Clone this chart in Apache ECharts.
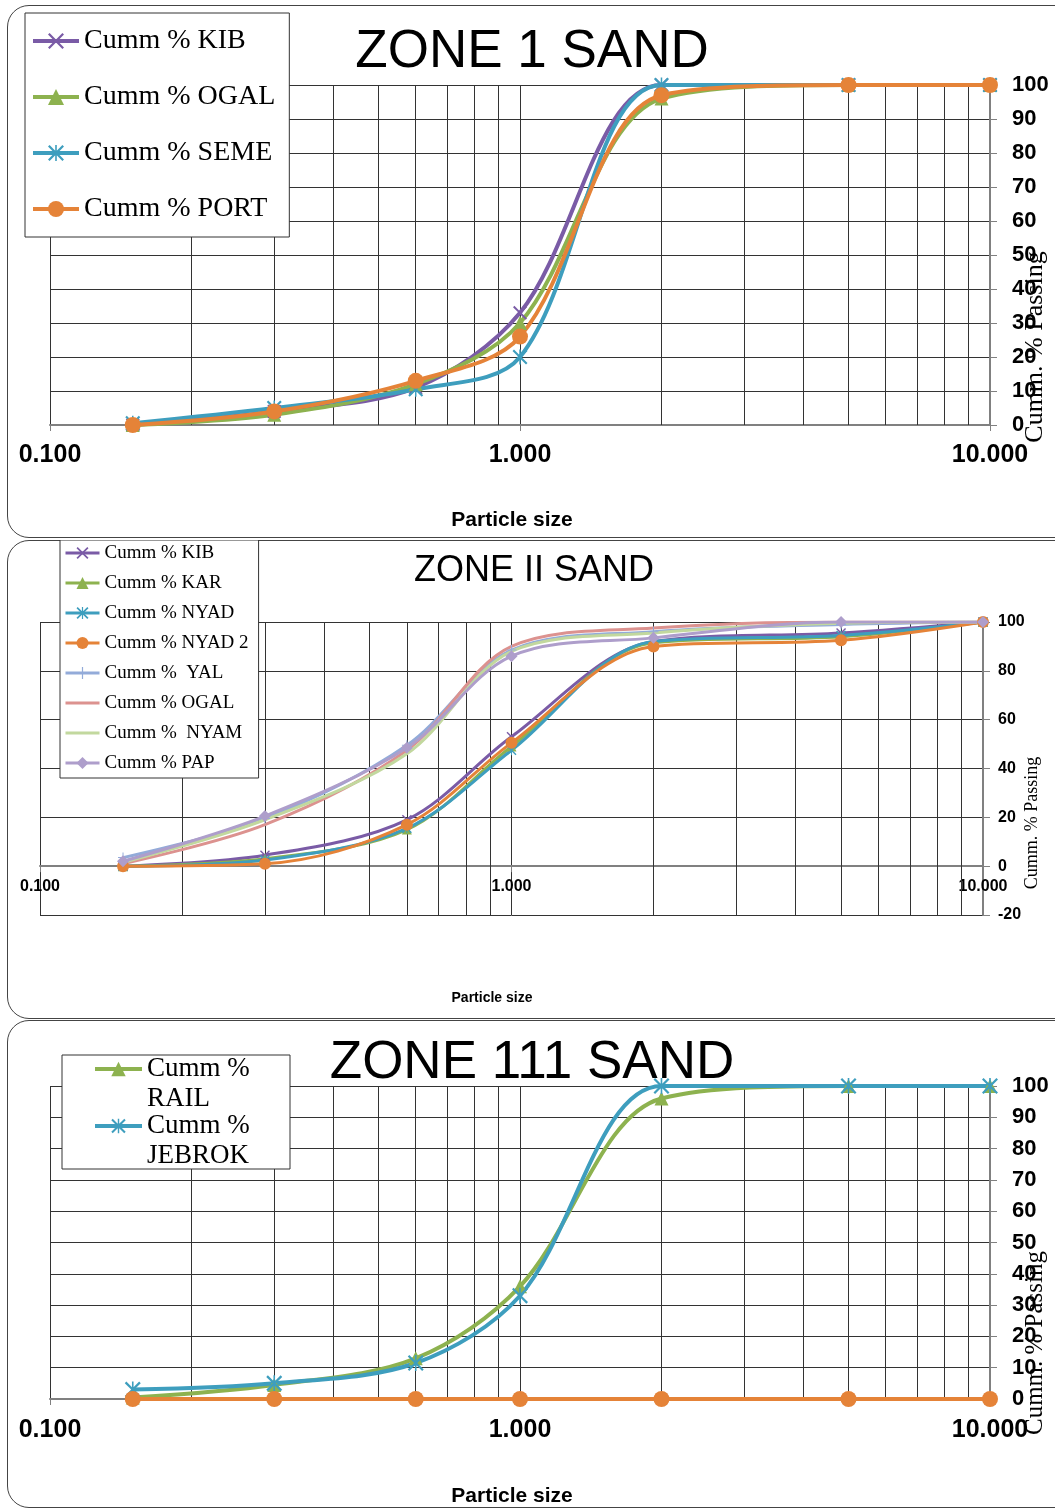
<!DOCTYPE html>
<html>
<head>
<meta charset="utf-8">
<title>Sand grading curves</title>
<script src="https://cdn.jsdelivr.net/npm/echarts@6/dist/echarts.min.js"></script>
<style>
    html, body { margin: 0; padding: 0; background: #fff; width: 1055px; height: 1509px; overflow: hidden; }
    .frame { position: absolute; left: 7px; width: 1100px; border: 1px solid #444; border-radius: 22px; box-sizing: border-box; }
    .chart { position: absolute; left: 0; width: 1055px; }
</style>
</head>
<body>
<div class="frame" style="top:5px;height:533px"></div>
<div class="frame" style="top:540px;height:479px"></div>
<div class="frame" style="top:1020px;height:488px"></div>
<div id="zone1" class="chart" style="top:0;height:540px"></div>
<div id="zone2" class="chart" style="top:540px;height:480px"></div>
<div id="zone3" class="chart" style="top:1020px;height:489px"></div>
<script>
// 筛孔尺寸 (mm) 和对数轴的次网格线
const sieveSizes = [0.15, 0.3, 0.6, 1, 2, 5, 10];
const minorGrid = [0.2, 0.3, 0.4, 0.5, 0.6, 0.7, 0.8, 0.9, 2, 3, 4, 5, 6, 7, 8, 9];

// ZONE 1
const zone1Names = ['Cumm % KIB', 'Cumm % OGAL', 'Cumm % SEME', 'Cumm % PORT'];
const zone1Kib = [0, 4, 11, 33, 100, 100, 100];
const zone1Ogal = [0, 3, 12, 30, 96, 100, 100];
const zone1Seme = [0.5, 5, 10.5, 20, 100, 100, 100];
const zone1Port = [0, 4, 13, 26, 97, 100, 100];

// ZONE II
const zone2Names = ['Cumm % KIB', 'Cumm % KAR', 'Cumm % NYAD', 'Cumm % NYAD 2',
    'Cumm %  YAL', 'Cumm % OGAL', 'Cumm %  NYAM', 'Cumm % PAP'];
const zone2Kib = [0, 4.5, 19, 53, 92, 95.5, 100];
const zone2Kar = [0, 3, 15, 49, 91.5, 94, 100];
const zone2Nyad = [0, 2.5, 15.5, 47.5, 92, 94.5, 100];
const zone2Nyad2 = [0, 1, 17, 50.5, 90, 92.5, 100];
const zone2Yal = [3.5, 19.5, 49.5, 88.5, 96, 99, 100];
const zone2Ogal = [1, 17, 47.5, 90, 97.5, 100, 100];
const zone2Nyam = [1.5, 19, 46, 88, 95.5, 99.5, 100];
const zone2Pap = [2, 20.5, 48.5, 86, 93.5, 100, 100];

// ZONE 111
const zone3Names = ['Cumm % RAIL', 'Cumm % JEBROK'];
const zone3Rail = [0.5, 4.5, 13, 36, 96, 100, 100];
const zone3Jebrok = [3, 5, 11.5, 33, 100, 100, 100];
const zone3KibZero = [0, 0, 0, 0, 0, 0, 0];
const zone3PortZero = [0, 0, 0, 0, 0, 0, 0];

const PURPLE = '#7A5BA6', GREEN = '#8DB24F', TEAL = '#3E9EBE', ORANGE = '#E58338';
const LIGHT_BLUE = '#93ABD9', PINK = '#DC928F', LIGHT_GREEN = '#C2D89E', LAVENDER = '#AE9ECB';

const SYM_X = 'path://M0,1 L1,0 L5,4 L9,0 L10,1 L6,5 L10,9 L9,10 L5,6 L1,10 L0,9 L4,5 Z';
const SYM_STAR = 'path://M0,1 L1,0 L5,4 L9,0 L10,1 L6,5 L10,9 L9,10 L5,6 L1,10 L0,9 L4,5 Z M4.5,0 L5.5,0 L5.5,10 L4.5,10 Z';
const SYM_PLUS = 'path://M4.5,0 L5.5,0 L5.5,4.5 L10,4.5 L10,5.5 L5.5,5.5 L5.5,10 L4.5,10 L4.5,5.5 L0,5.5 L0,4.5 L4.5,4.5 Z';
// 无标记系列的图例：只有一条线 (34x15 的框)
const ICON_LINE_ONLY = 'path://M0,0 L34,0 M0,6 L34,6 L34,9 L0,9 Z M0,15 L34,15';

const SANS = "'Liberation Sans', Arial, sans-serif";
const SERIF = "'Liberation Serif', 'Times New Roman', serif";

function lineSeries(name, values, color, symbol, size, width) {
    return {
        name: name,
        type: 'line',
        smooth: 0.33,
        data: sieveSizes.map((s, i) => [s, values[i]]),
        symbol: symbol,
        symbolSize: size,
        showAllSymbol: true,
        lineStyle: { color: color, width: width },
        itemStyle: { color: color },
        emphasis: { disabled: true }
    };
}

// 对数轴次网格线 (0.2..0.9, 2..9)
function minorGridSeries() {
    return {
        name: 'minor-grid',
        type: 'line',
        data: [],
        silent: true,
        z: 1,
        markLine: {
            z: 1,
            silent: true,
            symbol: 'none',
            label: { show: false },
            lineStyle: { color: '#333', width: 1, type: 'solid' },
            emphasis: { disabled: true },
            data: minorGrid.map(v => ({ xAxis: v }))
        }
    };
}

function xAxisOf(labelSize, labelMargin, nameSize, nameGap, namePadRight, offset) {
    return {
        type: 'log',
        logBase: 10,
        min: 0.1,
        max: 10,
        offset: offset || 0,
        axisLine: { onZero: false, lineStyle: { color: '#808080', width: 2 } },
        axisTick: { show: true, length: 6, lineStyle: { color: '#808080' } },
        axisLabel: {
            formatter: v => Number(v).toFixed(3),
            fontSize: labelSize, fontWeight: 'bold', fontFamily: SANS, color: '#000', margin: labelMargin
        },
        splitLine: { show: true, lineStyle: { color: '#333', width: 1 } },
        name: 'Particle size',
        nameLocation: 'middle',
        nameGap: nameGap,
        nameTextStyle: { fontSize: nameSize, fontWeight: 'bold', fontFamily: SANS, color: '#000', padding: [0, namePadRight, 0, 0] }
    };
}

function yAxisOf(min, max, interval, labelSize, labelMargin) {
    return {
        type: 'value',
        position: 'right',
        min: min,
        max: max,
        interval: interval,
        axisLine: { show: true, onZero: false, lineStyle: { color: '#808080', width: 2 } },
        axisTick: { show: true, length: 7, lineStyle: { color: '#808080' } },
        axisLabel: { fontSize: labelSize, fontWeight: 'bold', fontFamily: SANS, color: '#000', margin: labelMargin },
        splitLine: { show: true, lineStyle: { color: '#333', width: 1 } }
    };
}

function textGraphic(text, x, y, font, rotate) {
    return {
        type: 'text',
        x: x,
        y: y,
        rotation: rotate ? Math.PI / 2 : 0,
        z: 5,
        style: { text: text, font: font, fill: '#000', align: 'center', verticalAlign: 'middle', textAlign: 'center', textVerticalAlign: 'middle' }
    };
}

// ZONE 1 SAND
const chart1 = echarts.init(document.getElementById('zone1'));
chart1.setOption({
    animation: false,
    grid: { left: 50, top: 85, width: 940, height: 340, outerBoundsMode: 'none', containLabel: false },
    xAxis: xAxisOf(25, 18, 21, 85, 16),
    yAxis: yAxisOf(0, 100, 10, 22, 22),
    legend: {
        data: zone1Names,
        orient: 'vertical',
        left: 25,
        top: 13,
        selectedMode: false,
        backgroundColor: '#fff',
        borderColor: '#333',
        borderWidth: 1,
        padding: [13, 14, 13, 6],
        itemWidth: 46,
        itemHeight: 20,
        itemGap: 26,
        lineStyle: { width: 4 },
        textStyle: { fontFamily: SERIF, fontSize: 28, lineHeight: 30, color: '#000' }
    },
    graphic: [
        textGraphic('ZONE 1 SAND', 532, 52, '53px ' + SANS),
        textGraphic('Cumm. % Passing', 1035, 347, '26px ' + SERIF, true)
    ],
    series: [
        minorGridSeries(),
        lineSeries(zone1Names[0], zone1Kib, PURPLE, SYM_X, 14, 4),
        lineSeries(zone1Names[1], zone1Ogal, GREEN, 'triangle', 14, 4),
        lineSeries(zone1Names[2], zone1Seme, TEAL, SYM_STAR, 15, 4),
        lineSeries(zone1Names[3], zone1Port, ORANGE, 'circle', 16, 4)
    ]
});

// ZONE II SAND —— x 轴画在 y=0 处
const zone2YMin = -20, zone2YMax = 100, zone2GridHeight = 293;
const zone2AxisOffset = -(0 - zone2YMin) / (zone2YMax - zone2YMin) * zone2GridHeight;
const chart2 = echarts.init(document.getElementById('zone2'));
chart2.setOption({
    animation: false,
    grid: { left: 40, top: 82, width: 943, height: zone2GridHeight, outerBoundsMode: 'none', containLabel: false },
    xAxis: xAxisOf(16, 12, 14, 125, 39, zone2AxisOffset),
    yAxis: yAxisOf(zone2YMin, zone2YMax, 20, 16, 15),
    legend: {
        data: zone2Names.map((n, i) => (i === 5 || i === 6) ? { name: n, icon: ICON_LINE_ONLY } : n),
        orient: 'vertical',
        left: 60,
        top: 0,
        selectedMode: false,
        backgroundColor: '#fff',
        borderColor: '#333',
        borderWidth: 1,
        padding: [2, 10, 4, 4],
        itemWidth: 34,
        itemHeight: 15,
        itemGap: 8,
        lineStyle: { width: 3 },
        textStyle: { fontFamily: SERIF, fontSize: 19, lineHeight: 22, color: '#000' }
    },
    graphic: [
        textGraphic('ZONE II SAND', 534, 31, '36px ' + SANS),
        textGraphic('Cumm. % Passing', 1032, 283, '18px ' + SERIF, true)
    ],
    series: [
        minorGridSeries(),
        lineSeries(zone2Names[0], zone2Kib, PURPLE, SYM_X, 10, 3),
        lineSeries(zone2Names[1], zone2Kar, GREEN, 'triangle', 10, 3),
        lineSeries(zone2Names[2], zone2Nyad, TEAL, SYM_STAR, 10, 3),
        lineSeries(zone2Names[3], zone2Nyad2, ORANGE, 'circle', 12, 3),
        lineSeries(zone2Names[4], zone2Yal, LIGHT_BLUE, SYM_PLUS, 10, 3),
        lineSeries(zone2Names[5], zone2Ogal, PINK, 'none', 0, 3),
        lineSeries(zone2Names[6], zone2Nyam, LIGHT_GREEN, 'none', 0, 3),
        lineSeries(zone2Names[7], zone2Pap, LAVENDER, 'diamond', 12, 3)
    ]
});

// ZONE 111 SAND
const chart3 = echarts.init(document.getElementById('zone3'));
chart3.setOption({
    animation: false,
    grid: { left: 50, top: 66, width: 940, height: 313, outerBoundsMode: 'none', containLabel: false },
    xAxis: xAxisOf(25, 19, 21, 87, 16),
    yAxis: yAxisOf(0, 100, 10, 22, 22),
    legend: {
        data: zone3Names,
        orient: 'vertical',
        left: 93,
        top: 4,
        selectedMode: false,
        padding: 0,
        itemWidth: 47,
        itemHeight: 18,
        itemGap: -33,
        lineStyle: { width: 4 },
        // 空首行让图例符号对齐文字第一行
        formatter: name => ' \n' + name.replace('% ', '%\n'),
        textStyle: { fontFamily: SERIF, fontSize: 27, lineHeight: 30, color: '#000' }
    },
    graphic: [
        { type: 'rect', z: 3, shape: { x: 62, y: 35, width: 228, height: 114 }, style: { fill: '#fff', stroke: '#333', lineWidth: 1 } },
        textGraphic('ZONE 111 SAND', 532, 43, '53px ' + SANS),
        textGraphic('Cumm. % Passing', 1035, 323, '25px ' + SERIF, true)
    ],
    series: [
        minorGridSeries(),
        lineSeries(zone3Names[0], zone3Rail, GREEN, 'triangle', 14, 4),
        lineSeries(zone3Names[1], zone3Jebrok, TEAL, SYM_STAR, 16, 4),
        lineSeries('Cumm % KIB', zone3KibZero, PURPLE, SYM_X, 12, 4),
        lineSeries('Cumm % PORT', zone3PortZero, ORANGE, 'circle', 16, 4)
    ]
});

window.addEventListener('resize', function() {
    chart1.resize();
    chart2.resize();
    chart3.resize();
});
</script>
</body>
</html>
